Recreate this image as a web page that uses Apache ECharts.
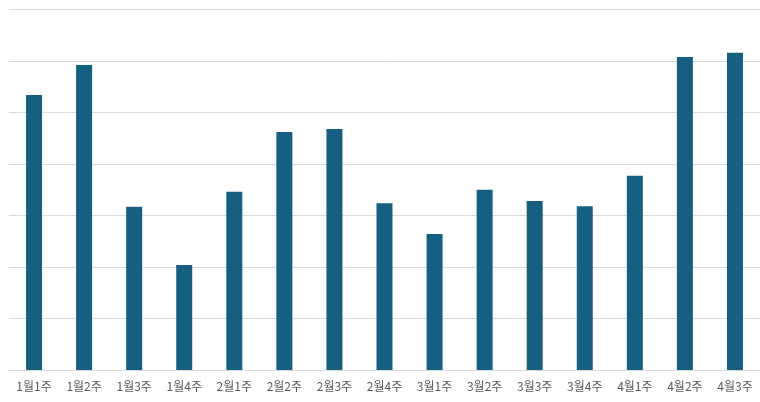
<!DOCTYPE html>
<html><head><meta charset="utf-8">
<script src="https://cdn.jsdelivr.net/npm/echarts@6/dist/echarts.min.js"></script>
<style>html,body{margin:0;padding:0;background:#fff}#c{width:760px;height:402px}</style>
</head><body><div id="c"></div>
<script>
var categories = ['1월1주','1월2주','1월3주','1월4주','2월1주','2월2주','2월3주','2월4주','3월1주','3월2주','3월3주','3월4주','4월1주','4월2주','4월3주'];
var values = [53.4,59.2,31.7,20.4,34.6,46.2,46.8,32.4,26.4,35.0,32.8,31.8,37.7,60.8,61.6];
var chart = echarts.init(document.getElementById('c'));
chart.setOption({
  animation:false,
  grid:{left:9,right:0,top:9.5,bottom:32,containLabel:false},
  xAxis:{type:'category',data:categories,
    axisLine:{show:true,lineStyle:{color:'#d9d9d9',width:1}},
    axisTick:{show:false},
    axisLabel:{color:'#595959',fontSize:12,margin:10,fontFamily:'Noto Sans CJK KR'}},
  yAxis:{type:'value',min:0,max:70,interval:10,
    axisLabel:{show:false},axisLine:{show:false},axisTick:{show:false},
    splitLine:{lineStyle:{color:'#d9d9d9',width:1}}},
  series:[{type:'bar',data:values,barWidth:16,itemStyle:{color:'#156082'}}]
});
</script></body></html>
